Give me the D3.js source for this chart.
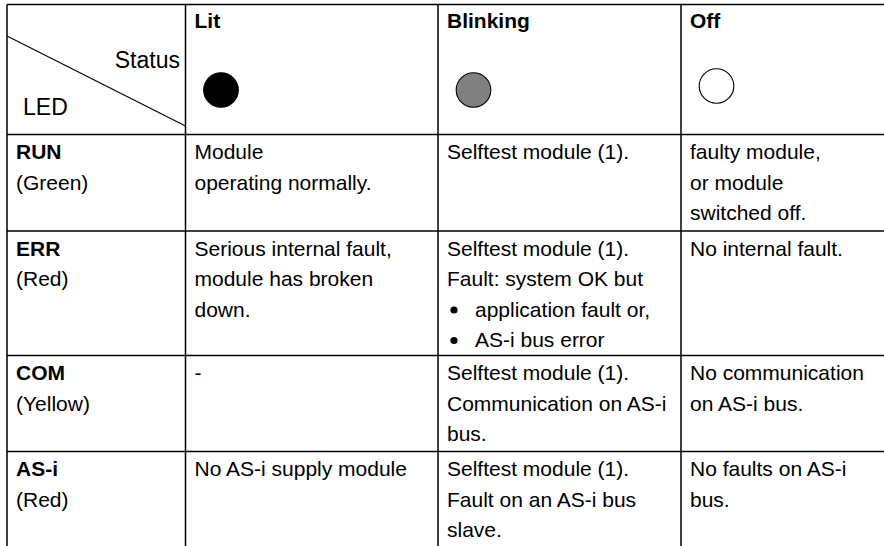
<!DOCTYPE html>
<html>
<head>
<meta charset="utf-8">
<script src="https://cdn.jsdelivr.net/npm/d3@7"></script>
<style>
  html, body { margin: 0; padding: 0; background: #fff; }
  svg { display: block; }
  text { font-family: "Liberation Sans", Arial, sans-serif; font-size: 21px; fill: #000; }
</style>
</head>
<body>
<svg id="chart" width="884" height="546"></svg>
<script>
// ---- data ----
const statusColumns = ["Lit", "Blinking", "Off"];
const statusFills = ["#000000", "#808080", "#ffffff"];
const ledNames = ["RUN", "ERR", "COM", "AS-i"];
const ledColors = ["(Green)", "(Red)", "(Yellow)", "(Red)"];
const litTexts = [
  ["Module", "operating normally."],
  ["Serious internal fault,", "module has broken", "down."],
  ["-"],
  ["No AS-i supply module"]
];
const blinkingTexts = [
  ["Selftest module (1)."],
  ["Selftest module (1).", "Fault: system OK but", "\u2022 application fault or,", "\u2022 AS-i bus error"],
  ["Selftest module (1).", "Communication on AS-i", "bus."],
  ["Selftest module (1).", "Fault on an AS-i bus", "slave."]
];
const offTexts = [
  ["faulty module,", "or module", "switched off."],
  ["No internal fault."],
  ["No communication", "on AS-i bus."],
  ["No faults on AS-i", "bus."]
];

// ---- layout ----
const W = 884, H = 546;
const colEdges = [7, 185.5, 438, 681];
const rowEdges = [4.5, 134.5, 231, 355.5, 451.5];
const padX = 9, firstBase = 24.5, lineH = 30.5;
const svg = d3.select("#chart");

// grid lines
const g = svg.append("g").attr("stroke", "#000").attr("stroke-width", 1.5);
g.selectAll("line.h").data(rowEdges).join("line")
  .attr("x1", colEdges[0]).attr("x2", W).attr("y1", d => d).attr("y2", d => d);
g.selectAll("line.v").data(colEdges).join("line")
  .attr("x1", d => d).attr("x2", d => d).attr("y1", rowEdges[0]).attr("y2", H);

// header corner
svg.append("line").attr("x1", colEdges[0]).attr("y1", 36).attr("x2", colEdges[1]).attr("y2", 126)
  .attr("stroke", "#000").attr("stroke-width", 1.1);
svg.append("text").attr("x", 180).attr("y", 68).attr("text-anchor", "end")
  .style("font-size", "23px").text("Status");
svg.append("text").attr("x", 23).attr("y", 115).style("font-size", "23px").text("LED");

// header columns
const circleY = [90, 90, 86];
statusColumns.forEach((name, i) => {
  const x0 = colEdges[i + 1];
  svg.append("text").attr("x", x0 + padX).attr("y", 28).attr("font-weight", "bold").text(name);
  svg.append("circle").attr("cx", x0 + 35.5).attr("cy", circleY[i]).attr("r", 17.3)
    .attr("fill", statusFills[i]).attr("stroke", "#000").attr("stroke-width", 1.1);
});

// body
function drawLines(x0, top, lines) {
  lines.forEach((t, k) => {
    const y = top + firstBase + k * lineH;
    if (t.startsWith("\u2022 ")) {
      svg.append("circle").attr("cx", x0 + 16).attr("cy", y - 6.5).attr("r", 3.6).attr("fill", "#000");
      svg.append("text").attr("x", x0 + 37).attr("y", y).text(t.slice(2));
    } else {
      svg.append("text").attr("x", x0 + padX).attr("y", y).text(t);
    }
  });
}
ledNames.forEach((name, r) => {
  const top = rowEdges[r + 1];
  svg.append("text").attr("x", colEdges[0] + padX).attr("y", top + firstBase)
    .attr("font-weight", "bold").text(name);
  svg.append("text").attr("x", colEdges[0] + padX).attr("y", top + firstBase + lineH).text(ledColors[r]);
  drawLines(colEdges[1], top, litTexts[r]);
  drawLines(colEdges[2], top, blinkingTexts[r]);
  drawLines(colEdges[3], top, offTexts[r]);
});
</script>
</body>
</html>
